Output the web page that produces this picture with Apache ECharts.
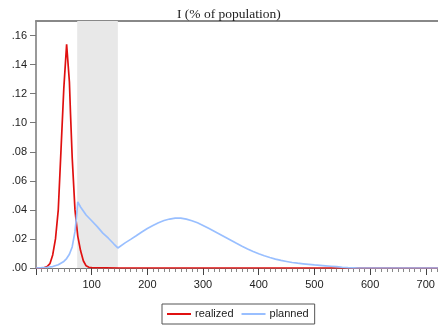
<!DOCTYPE html>
<html><head><meta charset="utf-8">
<script src="https://cdn.jsdelivr.net/npm/echarts@6/dist/echarts.min.js"></script>
<style>html,body{margin:0;padding:0;background:#fff}#c{width:438px;height:328px}</style>
</head><body><div id="c"></div>
<script>
const titleText = 'I (% of population)';
const seriesNames = ['realized', 'planned'];
const shadeRange = [74, 147];
const realizedX = [0, 10, 15, 20, 25, 30, 35, 40, 45, 50, 55, 60, 62, 65, 70, 75, 80, 85, 90, 95, 100, 150, 300, 500, 722];
const realizedY = [0, 0.0001, 0.0003, 0.001, 0.003, 0.009, 0.020, 0.040, 0.082, 0.124, 0.154, 0.128, 0.106, 0.076, 0.040, 0.022, 0.012, 0.005, 0.0015, 0.0005, 0.0002, 0, 0, 0, 0];
const plannedX = [0, 10, 20, 30, 40, 50, 55, 60, 65, 70, 73, 75, 80, 90, 100, 110, 120, 130, 140, 147, 150, 160, 170, 180, 190, 200, 210, 220, 230, 240, 250, 260, 270, 280, 290, 300, 310, 320, 330, 340, 350, 360, 370, 380, 390, 400, 410, 420, 430, 440, 450, 460, 470, 480, 490, 500, 510, 520, 530, 540, 550, 560, 570, 580, 722];
const plannedY = [0, 0.0002, 0.0005, 0.001, 0.0022, 0.0045, 0.0065, 0.0095, 0.0145, 0.025, 0.036, 0.0455, 0.042, 0.0365, 0.0325, 0.0285, 0.024, 0.0205, 0.0165, 0.0138, 0.0146, 0.0173, 0.0197, 0.0222, 0.0248, 0.0272, 0.0293, 0.0312, 0.0327, 0.0337, 0.0343, 0.0343, 0.0336, 0.0325, 0.0311, 0.0293, 0.0273, 0.0253, 0.0233, 0.0212, 0.0191, 0.0170, 0.0150, 0.0131, 0.0113, 0.0098, 0.0084, 0.0072, 0.0061, 0.0052, 0.0045, 0.0038, 0.0033, 0.0029, 0.0025, 0.0021, 0.0018, 0.0015, 0.0012, 0.0009, 0.0005, 0.0002, 0.0001, 0, 0];

const zip = (xs, ys) => xs.map((x, i) => [x, ys[i]]);
const chart = echarts.init(document.getElementById('c'), null, {renderer: 'canvas'});
const lbl = {fontFamily: 'Liberation Sans, Arial, sans-serif', fontSize: 11, color: '#222'};
chart.setOption({
  animation: false,
  backgroundColor: '#fff',
  title: {text: titleText, left: 172, top: 2, textStyle: {fontFamily: 'Liberation Serif, Times New Roman, serif', fontWeight: 'normal', fontSize: 13.5, color: '#222'}},
  legend: {
    data: seriesNames, left: 162, top: 304, padding: [4, 6, 4, 5], itemGap: 8, itemWidth: 24, itemHeight: 2,
    icon: 'rect',
    borderColor: '#555', borderWidth: 1, borderRadius: 0,
    textStyle: {fontFamily: 'Liberation Sans, Arial, sans-serif', fontSize: 11, color: '#222', padding: [0, 0, 0, -1], lineHeight: 12}
  },
  grid: {left: 36, right: 0, top: 21, bottom: 60, containLabel: false},
  xAxis: [{
    type: 'value', min: 0, max: 722, interval: 100,
    axisLine: {show: true, lineStyle: {color: '#777', width: 1}},
    axisTick: {show: true, length: 7, lineStyle: {color: '#444'}},
    minorTick: {show: true, splitNumber: 10, length: 4, lineStyle: {color: '#888'}},
    axisLabel: Object.assign({margin: 11, showMinLabel: false, showMaxLabel: false}, lbl),
    splitLine: {show: false}
  }, {
    type: 'value', position: 'top', min: 0, max: 722,
    axisLine: {show: true, onZero: false, lineStyle: {color: '#888', width: 2}},
    axisTick: {show: false}, axisLabel: {show: false}, splitLine: {show: false}
  }],
  yAxis: {
    type: 'value', min: 0, max: 0.17, interval: 0.02,
    axisLine: {show: true, lineStyle: {color: '#777', width: 1.5}},
    axisTick: {show: true, length: 6, lineStyle: {color: '#777'}},
    axisLabel: Object.assign({margin: 9, showMaxLabel: false, formatter: v => v.toFixed(2).replace(/^0/, '')}, lbl),
    splitLine: {show: false}
  },
  series: [
    {type: 'line', name: '_band', data: [], z: 1, silent: true,
      markArea: {silent: true, itemStyle: {color: '#e8e8e8'}, data: [[{xAxis: shadeRange[0]}, {xAxis: shadeRange[1]}]]}},
    {type: 'line', name: seriesNames[0], data: zip(realizedX, realizedY), symbol: 'none', z: 3,
      lineStyle: {color: '#e01010', width: 1.7}, itemStyle: {color: '#e01010'}},
    {type: 'line', name: seriesNames[1], data: zip(plannedX, plannedY), symbol: 'none', z: 4,
      lineStyle: {color: '#99bfff', width: 1.7}, itemStyle: {color: '#99bfff'}}
  ]
});
</script></body></html>
